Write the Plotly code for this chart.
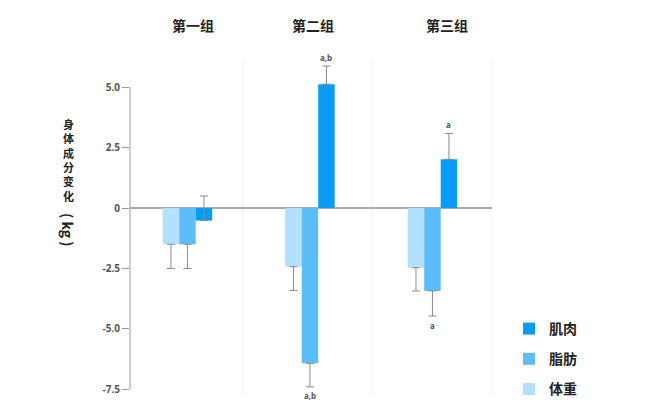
import plotly.graph_objects as go

groups = ["第一组", "第二组", "第三组"]
series_names = ["体重", "脂肪", "肌肉"]
weight = [-1.50, -2.43, -2.47]
weight_err = [1.00, 0.98, 0.96]
fat = [-1.50, -6.43, -3.43]
fat_err = [1.00, 0.97, 1.04]
muscle = [-0.52, 5.13, 2.02]
muscle_err = [1.02, 0.75, 1.07]
sig_muscle = ["", "a,b", "a"]
sig_fat = ["", "a,b", "a"]
ytick_vals = [5.0, 2.5, 0, -2.5, -5.0, -7.5]
ytick_text = ["5.0", "2.5", "0", "-2.5", "-5.0", "-7.5"]
ylabel_chars = ["身", "体", "成", "分", "变", "化"]
ylabel_unit = "( kg )"

colors = {"体重": "#b3e0fc", "脂肪": "#5cbdf9", "肌肉": "#0a9bf5"}
CJK = "Noto Sans CJK SC"
err_style = dict(color="#8a8a8a", thickness=1, width=4)

fig = go.Figure()
fig.add_trace(go.Bar(
    name="体重", x=groups, y=weight, marker_color=colors["体重"], marker_line_width=0,
    error_y=dict(type="data", symmetric=False, array=[0] * 3, arrayminus=weight_err, **err_style),
    legendgroup="w", legendrank=3))
fig.add_trace(go.Bar(
    name="脂肪", x=groups, y=fat, marker_color=colors["脂肪"], marker_line_width=0,
    error_y=dict(type="data", symmetric=False, array=[0] * 3, arrayminus=fat_err, **err_style),
    legendgroup="f", legendrank=2))
fig.add_trace(go.Bar(
    name="肌肉", x=groups, y=muscle, marker_color=colors["肌肉"], marker_line_width=0,
    error_y=dict(type="data", symmetric=False, array=muscle_err, arrayminus=[0] * 3, **err_style),
    legendgroup="m", legendrank=1))

group_w = 0.404
bw = group_w / 3
annots = []
sig_font = dict(size=8, color="#555", family="Noto Sans", weight="bold")
for i in range(3):
    if sig_muscle[i]:
        annots.append(dict(x=i + bw, y=muscle[i] + muscle_err[i], text=sig_muscle[i],
                           xref="x", yref="y", showarrow=False, yshift=9,
                           xanchor="center", yanchor="middle", font=sig_font))
    if sig_fat[i]:
        annots.append(dict(x=i, y=fat[i] - fat_err[i], text=sig_fat[i],
                           xref="x", yref="y", showarrow=False, yshift=-9,
                           xanchor="center", yanchor="middle", font=sig_font))

# group titles
title_px = [193, 313, 447]
for g, px in zip(groups, title_px):
    annots.append(dict(x=(px - 130) / 362, y=(395 - 25) / 335, xref="paper", yref="paper",
                       text=g, showarrow=False, xanchor="center", yanchor="middle",
                       font=dict(size=14, color="#222", family=CJK, weight="bold")))

# y-axis title: stacked CJK chars + rotated unit
annots.append(dict(x=(68 - 130) / 362, y=(395 - 160) / 335, xref="paper", yref="paper",
                   text="<br>".join(ylabel_chars), showarrow=False,
                   xanchor="center", yanchor="middle",
                   font=dict(size=11, color="#222", family=CJK, weight="bold")))
annots.append(dict(x=(68 - 130) / 362, y=(395 - 230) / 335, xref="paper", yref="paper",
                   text=ylabel_unit, showarrow=False, textangle=90,
                   xanchor="center", yanchor="middle",
                   font=dict(size=14, color="#222", family=CJK, weight="bold")))

shapes = [
    dict(type="line", xref="paper", yref="y", x0=0, x1=0, y0=-7.5, y1=5.0,
         line=dict(color="#9a9a9a", width=1)),
]
for px in [243, 372, 492]:
    xp = (px - 130) / 362
    shapes.append(dict(type="line", xref="paper", yref="paper", x0=xp, x1=xp, y0=0, y1=1,
                       line=dict(color="#eeeeee", width=1), layer="below"))

fig.update_layout(
    width=657, height=420,
    margin=dict(l=130, r=165, t=60, b=25),
    plot_bgcolor="white", paper_bgcolor="white",
    barmode="group", bargap=1 - group_w, bargroupgap=0,
    showlegend=True,
    legend=dict(x=(509 - 130) / 362, xanchor="left", y=(395 - 313) / 335, yanchor="top",
                traceorder="grouped", tracegroupgap=9,
                font=dict(size=14, color="#222", family=CJK, weight="bold")),
    annotations=annots,
    shapes=shapes,
    xaxis=dict(range=[-0.469, 2.486], showticklabels=False, ticks="", showgrid=False,
               showline=False, zeroline=False),
    yaxis=dict(range=[-7.74, 6.13], tickvals=ytick_vals, ticktext=ytick_text,
               ticks="outside", ticklen=7, tickcolor="#9a9a9a", tickwidth=1,
               showgrid=False, showline=False, zeroline=True, zerolinecolor="#aaaaaa",
               zerolinewidth=1.5,
               tickfont=dict(size=10, color="#555", family="Noto Sans", weight="bold")),
)

fig.write_html("out.html")
